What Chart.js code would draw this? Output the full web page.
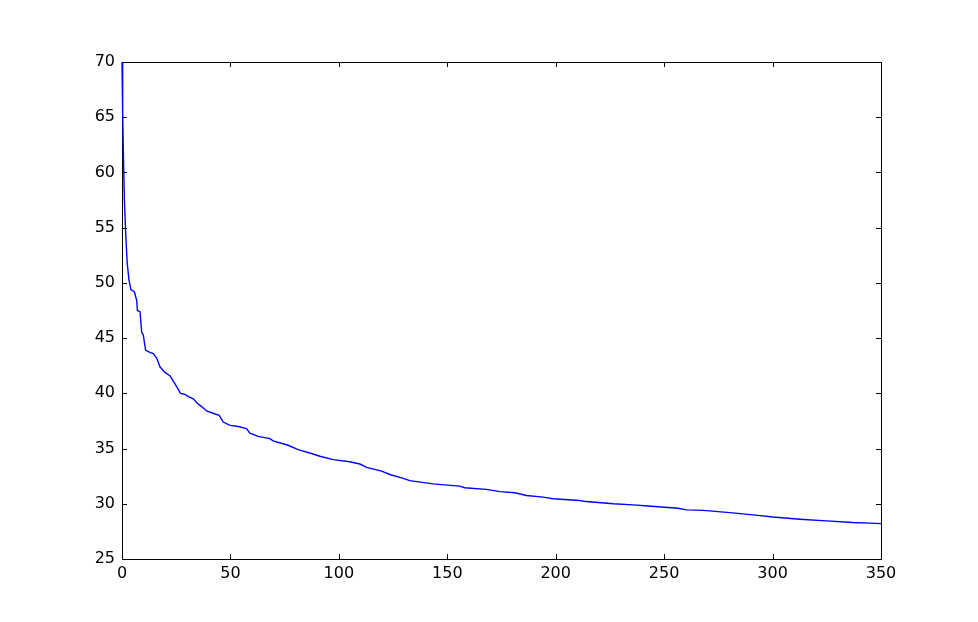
<!DOCTYPE html>
<html>
<head>
<meta charset="utf-8">
<script src="https://cdn.jsdelivr.net/npm/chart.js@4"></script>
<style>
  html, body { margin: 0; padding: 0; background: #fff; }
  #wrap { width: 978px; height: 622px; }
</style>
</head>
<body>
<div id="wrap"><canvas id="myChart" width="978" height="622"></canvas></div>
<script>
// 読み取った値
const xValues = [0, 0.3, 0.6, 1.1, 1.7, 2.4, 3.2, 4.1, 5.7, 6.8, 7.1, 8.3, 9.1, 9.8, 10.9, 12.9, 14.4, 16, 17.5,
  19.8, 22.1, 24, 25.2, 27, 29, 30.6, 32.9, 34.7, 36.7, 39, 42, 44.8, 46.7, 49.8, 53.6, 57.4, 59, 62.8,
  68.2, 69.7, 76.6, 81.2, 86.6, 91.3, 97.4, 105, 109.7, 112.8, 119.7, 123.5, 129.7, 132.7, 143.4, 155.7,
  158, 168, 174.3, 181.2, 186.5, 194.2, 198.8, 211, 214, 226.5, 235.7, 242.6, 256.4, 260.3, 268, 280.3,
  291, 300.2, 312.5, 324.8, 337, 344.7, 350];
const yValues = [70.0, 65.5, 62.0, 57.5, 54.5, 51.8, 50.3, 49.4, 49.2, 48.4, 47.5, 47.4, 45.5, 45.3, 43.9, 43.7,
  43.6, 43.2, 42.4, 41.9, 41.6, 41.0, 40.6, 40.0, 39.9, 39.7, 39.5, 39.1, 38.8, 38.4, 38.2, 38.0, 37.4,
  37.1, 37.0, 36.8, 36.4, 36.1, 35.9, 35.7, 35.3, 34.9, 34.6, 34.3, 34.0, 33.8, 33.6, 33.3, 32.95, 32.65,
  32.3, 32.1, 31.8, 31.6, 31.45, 31.3, 31.1, 31.0, 30.75, 30.6, 30.45, 30.3, 30.2, 30.0, 29.9, 29.8,
  29.6, 29.45, 29.4, 29.2, 29.0, 28.8, 28.6, 28.45, 28.3, 28.25, 28.2];
const xTicks = [0, 50, 100, 150, 200, 250, 300, 350];
const yTicks = [25, 30, 35, 40, 45, 50, 55, 60, 65, 70];

const points = xValues.map((x, i) => ({ x: x, y: yValues[i] }));

// 枠線と内向きの目盛り（線の下に描く）
const frameTicks = {
  id: 'frameTicks',
  beforeDatasetsDraw(chart) {
    const { ctx, chartArea: a, scales } = chart;
    const len = 5;
    ctx.save();
    ctx.strokeStyle = '#000';
    ctx.lineWidth = 1;
    ctx.beginPath();
    xTicks.forEach(v => {
      const px = Math.round(scales.x.getPixelForValue(v)) + 0.5;
      ctx.moveTo(px, a.bottom); ctx.lineTo(px, a.bottom - len);
      ctx.moveTo(px, a.top); ctx.lineTo(px, a.top + len);
    });
    yTicks.forEach(v => {
      const py = Math.round(scales.y.getPixelForValue(v)) + 0.5;
      ctx.moveTo(a.left, py); ctx.lineTo(a.left + len, py);
      ctx.moveTo(a.right, py); ctx.lineTo(a.right - len, py);
    });
    ctx.stroke();
    ctx.strokeRect(Math.round(a.left) + 0.5, Math.round(a.top) + 0.5,
      Math.round(a.right - a.left), Math.round(a.bottom - a.top));
    ctx.restore();
  }
};

const tickFont = { family: 'DejaVu Sans', size: 16 };

new Chart(document.getElementById('myChart').getContext('2d'), {
  type: 'line',
  data: {
    datasets: [{
      data: points,
      borderColor: '#0000ff',
      borderWidth: 1.4,
      pointRadius: 0,
      tension: 0,
      fill: false,
      clip: 2
    }]
  },
  options: {
    responsive: false,
    animation: false,
    layout: { padding: { top: 62, right: 97, left: 0, bottom: 0 } },
    plugins: { legend: { display: false }, tooltip: { enabled: false } },
    scales: {
      x: {
        type: 'linear',
        min: 0, max: 350,
        afterFit: s => { s.height = 63; },
        afterBuildTicks: s => { s.ticks = xTicks.map(v => ({ value: v })); },
        grid: { display: false, drawTicks: false },
        border: { display: false },
        ticks: { color: '#000', font: tickFont, padding: 5, maxRotation: 0 }
      },
      y: {
        min: 25, max: 70,
        afterFit: s => { s.width = 122; },
        afterBuildTicks: s => { s.ticks = yTicks.map(v => ({ value: v })); },
        grid: { display: false, drawTicks: false },
        border: { display: false },
        ticks: { color: '#000', font: tickFont, padding: 7 }
      }
    }
  },
  plugins: [frameTicks]
});
</script>
</body>
</html>
